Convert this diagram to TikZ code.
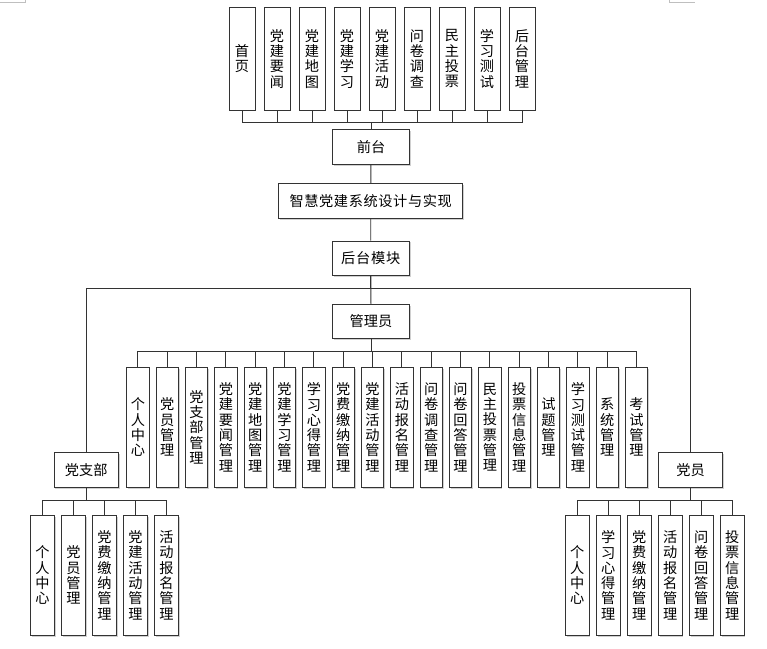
\documentclass[tikz,border=0pt]{standalone}
\usepackage{fontspec}
\setmainfont{Noto Sans CJK SC}
\usetikzlibrary{shadows}
\tikzset{
  box/.style={draw=black!80, line width=0.9pt, fill=white, inner sep=0pt,
    drop shadow={shadow xshift=1.3pt, shadow yshift=-1.3pt, opacity=0.3, fill=black!60},
    font=\fontsize{14.2}{15.3}\selectfont, align=center},
  link/.style={draw=black!80, line width=0.9pt},
  corner/.style={draw=black!25, line width=0.8pt}
}
\begin{document}
\begin{tikzpicture}[x=1pt,y=-1pt]
\useasboundingbox (0,0) rectangle (767,648);
\fill[white] (0,0) rectangle (767,648);
% page corner marks
\coordinate (cl1) at (0,2.5); \coordinate (cl2) at (25.5,2.5); \coordinate (cl3) at (25.5,0);
\draw[corner] (cl1) -- (cl2) -- (cl3);
\coordinate (cr1) at (669,0); \coordinate (cr2) at (669,2.5); \coordinate (cr3) at (695,2.5);
\draw[corner] (cr1) -- (cr2) -- (cr3);

% top row
\foreach \i/\t in {0/{首\\页},1/{党\\建\\要\\闻},2/{党\\建\\地\\图},3/{党\\建\\学\\习},4/{党\\建\\活\\动},5/{问\\卷\\调\\查},6/{民\\主\\投\\票},7/{学\\习\\测\\试},8/{后\\台\\管\\理}}{
  \node[box, minimum width=26pt, minimum height=102.7pt] (t\i) at ({242+35*\i},58.7) {\t};
}
\node[box, minimum width=76.6pt, minimum height=35pt] (qt) at (371,147.2) {前台};
\node[box, minimum width=184pt, minimum height=35pt] (root) at (370.7,200.8) {智\kern0.6pt 慧\kern0.6pt 党\kern0.6pt 建\kern0.6pt 系\kern0.6pt 统\kern0.6pt 设\kern0.6pt 计\kern0.6pt 与\kern0.6pt 实\kern0.6pt 现};
\node[box, minimum width=77pt, minimum height=34.3pt] (ht) at (370.8,258.2) {后\kern0.8pt 台\kern0.8pt 模\kern0.8pt 块};
\node[box, minimum width=77pt, minimum height=34.4pt] (gly) at (371,321.5) {管理员};
\node[box, minimum width=64.3pt, minimum height=34.6pt] (dzb) at (86.2,470) {党支部};
\node[box, minimum width=64.4pt, minimum height=34.4pt] (dy) at (690.5,470) {党员};

% admin children
\foreach \i/\t in {0/{个\\人\\中\\心},1/{党\\员\\管\\理},2/{党\\支\\部\\管\\理},3/{党\\建\\要\\闻\\管\\理},4/{党\\建\\地\\图\\管\\理},5/{党\\建\\学\\习\\管\\理},6/{学\\习\\心\\得\\管\\理},7/{党\\费\\缴\\纳\\管\\理},8/{党\\建\\活\\动\\管\\理},9/{活\\动\\报\\名\\管\\理},10/{问\\卷\\调\\查\\管\\理},11/{问\\卷\\回\\答\\管\\理},12/{民\\主\\投\\票\\管\\理},13/{投\\票\\信\\息\\管\\理},14/{试\\题\\管\\理},15/{学\\习\\测\\试\\管\\理},16/{系\\统\\管\\理},17/{考\\试\\管\\理}}{
  \node[box, minimum width=22.3pt, minimum height=120pt] (a\i) at ({137.9+29.33*\i},427.3) {\t};
}
% party branch children
\foreach \i/\t in {0/{个\\人\\中\\心},1/{党\\员\\管\\理},2/{党\\费\\缴\\纳\\管\\理},3/{党\\建\\活\\动\\管\\理},4/{活\\动\\报\\名\\管\\理}}{
  \node[box, minimum width=23.6pt, minimum height=120pt] (b\i) at ({42.5+31*\i},575.3) {\t};
}
% member children
\foreach \i/\t in {0/{个\\人\\中\\心},1/{学\\习\\心\\得\\管\\理},2/{党\\费\\缴\\纳\\管\\理},3/{活\\动\\报\\名\\管\\理},4/{问\\卷\\回\\答\\管\\理},5/{投\\票\\信\\息\\管\\理}}{
  \node[box, minimum width=23.6pt, minimum height=120pt] (c\i) at ({577.2+31*\i},575.3) {\t};
}

% connectors
\foreach \i in {0,...,8}{ \draw[link] (qt.north) -- ++(0,-6.4) -| (t\i.south); }
\draw[link] (qt) -- (root);
\draw[link] (root) -- (ht);
\draw[link] (ht) -- (gly);
\draw[link] (ht.south) -- ++(0,13) -| (dzb.north);
\draw[link] (ht.south) -- ++(0,13) -| (dy.north);
\foreach \i in {0,...,17}{ \draw[link] (gly.south) -- ++(0,12.3) -| (a\i.north); }
\foreach \i in {0,...,4}{ \draw[link] (dzb.south) -- ++(0,12.7) -| (b\i.north); }
\foreach \i in {0,...,5}{ \draw[link] (dy.south) -- ++(0,13) -| (c\i.north); }
\end{tikzpicture}
\end{document}
